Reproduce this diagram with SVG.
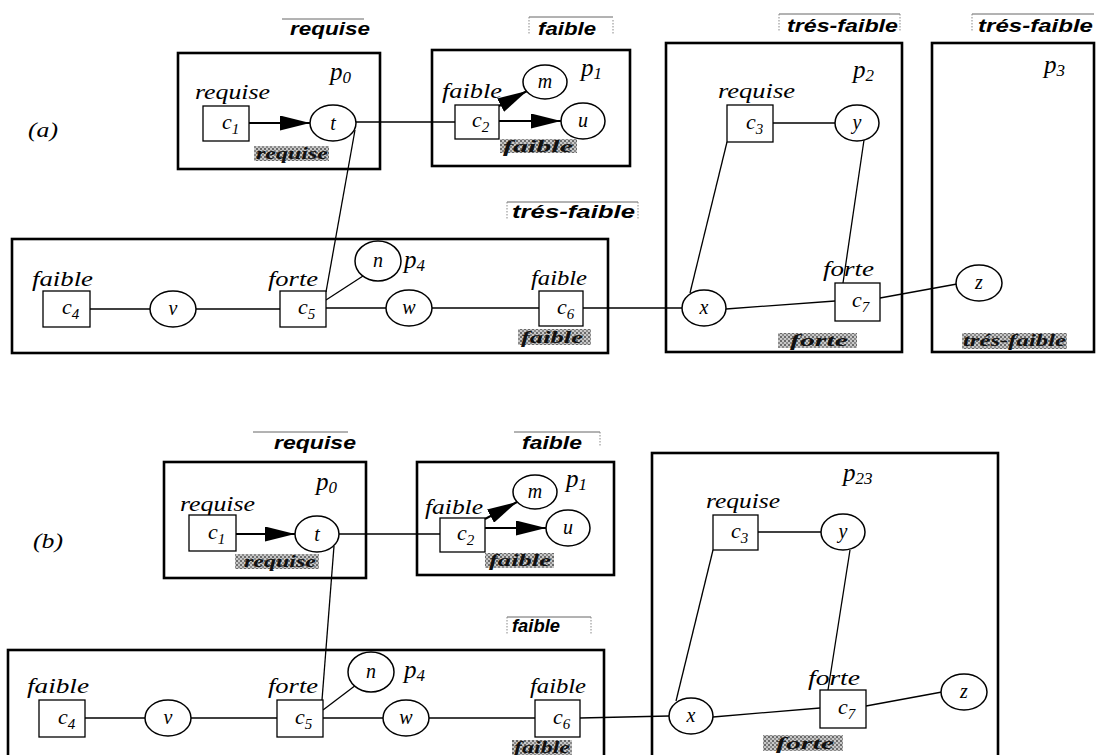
<svg xmlns="http://www.w3.org/2000/svg" width="1096" height="755" viewBox="0 0 1096 755">
<defs>
<style>
.pbox{fill:none;stroke:#000;stroke-width:2.6}
.cbox{fill:#fff;stroke:#000;stroke-width:1.3}
.el{fill:#fff;stroke:#000;stroke-width:1.5}
.ln{stroke:#000;stroke-width:1.3;fill:none}
.arr{stroke:#000;stroke-width:2;fill:none;marker-end:url(#ah)}
.hdr{font-family:"Liberation Sans",Arial,sans-serif;font-weight:bold;font-style:italic;font-size:19px;fill:#000}
.frm{stroke:#666;stroke-width:1;fill:none}
.dot{stroke:#888;stroke-width:1;stroke-dasharray:1.5 1.5;fill:none}
.lbl{font-family:"Liberation Serif","Times New Roman",serif;font-style:italic;font-size:21px;fill:#000}
.pl{font-family:"Liberation Serif","Times New Roman",serif;font-style:italic;font-size:25px;fill:#000}
.nd{font-family:"Liberation Serif","Times New Roman",serif;font-style:italic;font-size:22px;fill:#000}
.ndc{font-family:"Liberation Serif","Times New Roman",serif;font-style:italic;font-size:20px;fill:#000;text-anchor:middle}
.sub{font-size:15px}
.psub{font-size:17px}
.dap{font-family:"Liberation Serif","Times New Roman",serif;font-weight:bold;font-style:italic;font-size:17px;fill:#111}
.dapbg{fill:url(#hatch);stroke:none}
</style>
<pattern id="hatch" width="4" height="4" patternUnits="userSpaceOnUse">
<rect width="4" height="4" fill="#c8c8c8"/>
<rect width="2" height="2" fill="#6a6a6a"/>
<rect x="2" y="2" width="2" height="2" fill="#8a8a8a"/>
</pattern>
<marker id="ah" viewBox="0 0 30 15" refX="30" refY="7.5" markerWidth="30" markerHeight="15" markerUnits="userSpaceOnUse" orient="auto">
<path d="M0,0 L30,7.5 L0,15 z" fill="#000"/>
</marker>
</defs>
<rect width="1096" height="755" fill="#fff"/>

<!-- ================= (a) ================= -->
<text class="lbl" x="28" y="137" font-size="23" textLength="30" lengthAdjust="spacingAndGlyphs">(a)</text>

<g id="a-headers">
<line class="frm" x1="282" y1="19" x2="364" y2="19"/>
<text class="hdr" x="290" y="35" textLength="80" lengthAdjust="spacingAndGlyphs">requise</text>
<line class="frm" x1="529" y1="17" x2="613" y2="17"/>
<line class="dot" x1="529" y1="17" x2="529" y2="35"/>
<line class="dot" x1="613" y1="20" x2="613" y2="35"/>
<text class="hdr" x="538" y="35" textLength="58" lengthAdjust="spacingAndGlyphs">faible</text>
<line class="frm" x1="779" y1="14" x2="900" y2="14"/>
<line class="dot" x1="779" y1="14" x2="779" y2="32"/>
<line class="dot" x1="900" y1="14" x2="900" y2="32"/>
<text class="hdr" x="787" y="32" textLength="111" lengthAdjust="spacingAndGlyphs">trés-faible</text>
<line class="frm" x1="972" y1="14" x2="1094" y2="14"/>
<line class="dot" x1="972" y1="14" x2="972" y2="32"/>
<text class="hdr" x="978" y="32" textLength="115" lengthAdjust="spacingAndGlyphs">trés-faible</text>
<line class="frm" x1="507" y1="202" x2="638" y2="202"/>
<line class="dot" x1="507" y1="202" x2="507" y2="219"/>
<line class="dot" x1="638" y1="202" x2="638" y2="219"/>
<text class="hdr" x="512" y="218" textLength="123" lengthAdjust="spacingAndGlyphs">trés-faible</text>
</g>

<g id="a-p0">
<rect class="pbox" x="178" y="53" width="202" height="116"/>
<text class="pl" x="330" y="80">p<tspan class="psub" dy="3">0</tspan></text>
</g>
<g id="a-p1">
<rect class="pbox" x="432" y="50" width="198" height="116"/>
<text class="pl" x="581" y="76">p<tspan class="psub" dy="3">1</tspan></text>
</g>
<g id="a-p2">
<rect class="pbox" x="666" y="43" width="236" height="309"/>
<text class="pl" x="853" y="78">p<tspan class="psub" dy="3">2</tspan></text>
</g>
<g id="a-p3">
<rect class="pbox" x="932" y="43" width="162" height="309"/>
<text class="pl" x="1044" y="73">p<tspan class="psub" dy="3">3</tspan></text>
</g>
<g id="a-p4">
<rect class="pbox" x="12" y="239" width="596" height="114"/>
<text class="pl" x="404" y="268">p<tspan class="psub" dy="3">4</tspan></text>
</g>

<g id="a-connectors">
<line class="arr" x1="249" y1="123" x2="310" y2="123"/>
<line class="ln" x1="356" y1="122" x2="455" y2="122"/>
<line class="arr" x1="499" y1="121" x2="561" y2="121"/>
<line class="arr" x1="499" y1="106" x2="527" y2="91"/>
<line class="ln" x1="355" y1="130" x2="326" y2="292"/>
<line class="ln" x1="326" y1="300" x2="363" y2="276"/>
<line class="ln" x1="90" y1="309" x2="150" y2="309"/>
<line class="ln" x1="196" y1="309" x2="280" y2="309"/>
<line class="ln" x1="326" y1="308" x2="386" y2="308"/>
<line class="ln" x1="432" y1="308" x2="539" y2="308"/>
<line class="ln" x1="583" y1="308" x2="682" y2="308"/>
<line class="ln" x1="773" y1="123" x2="835" y2="123"/>
<line class="ln" x1="727" y1="142" x2="690" y2="293"/>
<line class="ln" x1="864" y1="140" x2="843" y2="283"/>
<line class="ln" x1="726" y1="309" x2="835" y2="301"/>
<line class="ln" x1="880" y1="298" x2="957" y2="284"/>
</g>

<g id="a-c1">
<text class="lbl" x="195" y="99" textLength="75" lengthAdjust="spacingAndGlyphs">requise</text>
<rect class="cbox" x="203" y="106" width="46" height="35"/>
<text class="nd" x="222" y="129">c<tspan class="sub" dy="5">1</tspan></text>
<rect class="dapbg" x="254" y="146" width="75" height="15"/>
<text class="dap" x="256" y="159" textLength="72" lengthAdjust="spacingAndGlyphs">requise</text>
</g>
<g id="a-t"><ellipse class="el" cx="333" cy="123" rx="23" ry="18"/><text class="ndc" x="333" y="130">t</text></g>
<g id="a-c2">
<text class="lbl" x="442" y="98" textLength="60" lengthAdjust="spacingAndGlyphs">faible</text>
<rect class="cbox" x="455" y="105" width="44" height="34"/>
<text class="nd" x="472" y="127">c<tspan class="sub" dy="5">2</tspan></text>
<rect class="dapbg" x="500" y="139" width="77" height="14"/>
<text class="dap" x="503" y="152" textLength="70" lengthAdjust="spacingAndGlyphs">faible</text>
</g>
<g id="a-m"><ellipse class="el" cx="545" cy="82" rx="22" ry="17"/><text class="ndc" x="545" y="88">m</text></g>
<g id="a-u"><ellipse class="el" cx="583" cy="121" rx="22" ry="18"/><text class="ndc" x="583" y="127">u</text></g>
<g id="a-c3">
<text class="lbl" x="718" y="98" textLength="77" lengthAdjust="spacingAndGlyphs">requise</text>
<rect class="cbox" x="727" y="105" width="46" height="37"/>
<text class="nd" x="746" y="129">c<tspan class="sub" dy="5">3</tspan></text>
</g>
<g id="a-y"><ellipse class="el" cx="857" cy="123" rx="22" ry="18"/><text class="ndc" x="857" y="129">y</text></g>
<g id="a-x"><ellipse class="el" cx="704" cy="308" rx="22" ry="18"/><text class="ndc" x="704" y="314">x</text></g>
<g id="a-c7">
<text class="lbl" x="823" y="276" textLength="51" lengthAdjust="spacingAndGlyphs">forte</text>
<rect class="cbox" x="835" y="283" width="45" height="38"/>
<text class="nd" x="852" y="307">c<tspan class="sub" dy="5">7</tspan></text>
<rect class="dapbg" x="778" y="333" width="79" height="15"/>
<text class="dap" x="790" y="346" textLength="58" lengthAdjust="spacingAndGlyphs">forte</text>
</g>
<g id="a-z"><ellipse class="el" cx="979" cy="283" rx="23" ry="18"/><text class="ndc" x="979" y="289">z</text>
<rect class="dapbg" x="962" y="333" width="105" height="16"/>
<text class="dap" x="963" y="346" textLength="103" lengthAdjust="spacingAndGlyphs">trés-faible</text>
</g>
<g id="a-c4">
<text class="lbl" x="32" y="286" textLength="61" lengthAdjust="spacingAndGlyphs">faible</text>
<rect class="cbox" x="43" y="291" width="47" height="36"/>
<text class="nd" x="62" y="314">c<tspan class="sub" dy="5">4</tspan></text>
</g>
<g id="a-v"><ellipse class="el" cx="173" cy="309" rx="23" ry="18"/><text class="ndc" x="173" y="315">v</text></g>
<g id="a-c5">
<text class="lbl" x="268" y="286" textLength="50" lengthAdjust="spacingAndGlyphs">forte</text>
<rect class="cbox" x="280" y="291" width="46" height="36"/>
<text class="nd" x="298" y="314">c<tspan class="sub" dy="5">5</tspan></text>
</g>
<g id="a-n"><ellipse class="el" cx="378" cy="261" rx="23" ry="20"/><text class="ndc" x="378" y="267">n</text></g>
<g id="a-w"><ellipse class="el" cx="409" cy="308" rx="23" ry="18"/><text class="ndc" x="409" y="314">w</text></g>
<g id="a-c6">
<text class="lbl" x="531" y="285" textLength="56" lengthAdjust="spacingAndGlyphs">faible</text>
<rect class="cbox" x="539" y="291" width="44" height="35"/>
<text class="nd" x="557" y="314">c<tspan class="sub" dy="5">6</tspan></text>
<rect class="dapbg" x="518" y="329" width="73" height="16"/>
<text class="dap" x="521" y="343" textLength="62" lengthAdjust="spacingAndGlyphs">faible</text>
</g>

<!-- ================= (b) ================= -->
<text class="lbl" x="33" y="548" font-size="23" textLength="30" lengthAdjust="spacingAndGlyphs">(b)</text>

<g id="b-headers">
<line class="frm" x1="253" y1="432" x2="348" y2="432"/>
<text class="hdr" x="274" y="449" textLength="82" lengthAdjust="spacingAndGlyphs">requise</text>
<line class="frm" x1="514" y1="432" x2="600" y2="432"/>
<line class="dot" x1="600" y1="432" x2="600" y2="447"/>
<text class="hdr" x="522" y="449" textLength="60" lengthAdjust="spacingAndGlyphs">faible</text>
<line class="frm" x1="507" y1="617" x2="591" y2="617"/>
<line class="dot" x1="507" y1="617" x2="507" y2="634"/>
<line class="dot" x1="591" y1="617" x2="591" y2="634"/>
<text class="hdr" x="512" y="632" textLength="48" lengthAdjust="spacingAndGlyphs">faible</text>
</g>

<g id="b-p0">
<rect class="pbox" x="164" y="462" width="202" height="116"/>
<text class="pl" x="316" y="490">p<tspan class="psub" dy="3">0</tspan></text>
</g>
<g id="b-p1">
<rect class="pbox" x="417" y="462" width="197" height="113"/>
<text class="pl" x="566" y="487">p<tspan class="psub" dy="3">1</tspan></text>
</g>
<g id="b-p23">
<rect class="pbox" x="652" y="453" width="346" height="330"/>
<text class="pl" x="843" y="481">p<tspan class="psub" dy="3">23</tspan></text>
</g>
<g id="b-p4">
<rect class="pbox" x="8" y="650" width="596" height="130"/>
<text class="pl" x="404" y="678">p<tspan class="psub" dy="3">4</tspan></text>
</g>

<g id="b-connectors">
<line class="arr" x1="236" y1="534" x2="295" y2="534"/>
<line class="ln" x1="339" y1="534" x2="440" y2="534"/>
<line class="arr" x1="485" y1="528" x2="546" y2="528"/>
<line class="arr" x1="485" y1="519" x2="517" y2="502"/>
<line class="ln" x1="334" y1="546" x2="322" y2="700"/>
<line class="ln" x1="323" y1="710" x2="356" y2="685"/>
<line class="ln" x1="85" y1="718" x2="145" y2="718"/>
<line class="ln" x1="191" y1="718" x2="277" y2="718"/>
<line class="ln" x1="323" y1="718" x2="383" y2="718"/>
<line class="ln" x1="429" y1="718" x2="535" y2="718"/>
<line class="ln" x1="580" y1="718" x2="669" y2="716"/>
<line class="ln" x1="758" y1="532" x2="821" y2="532"/>
<line class="ln" x1="713" y1="550" x2="676" y2="701"/>
<line class="ln" x1="850" y1="550" x2="828" y2="690"/>
<line class="ln" x1="713" y1="717" x2="820" y2="708"/>
<line class="ln" x1="866" y1="706" x2="942" y2="692"/>
</g>

<g id="b-c1">
<text class="lbl" x="180" y="511" textLength="75" lengthAdjust="spacingAndGlyphs">requise</text>
<rect class="cbox" x="189" y="515" width="47" height="36"/>
<text class="nd" x="208" y="539">c<tspan class="sub" dy="5">1</tspan></text>
<rect class="dapbg" x="235" y="554" width="84" height="15"/>
<text class="dap" x="244" y="567" textLength="72" lengthAdjust="spacingAndGlyphs">requise</text>
</g>
<g id="b-t"><ellipse class="el" cx="317" cy="534" rx="22" ry="18"/><text class="ndc" x="317" y="541">t</text></g>
<g id="b-c2">
<text class="lbl" x="425" y="514" textLength="58" lengthAdjust="spacingAndGlyphs">faible</text>
<rect class="cbox" x="440" y="518" width="45" height="34"/>
<text class="nd" x="457" y="540">c<tspan class="sub" dy="5">2</tspan></text>
<rect class="dapbg" x="485" y="553" width="69" height="15"/>
<text class="dap" x="489" y="566" textLength="62" lengthAdjust="spacingAndGlyphs">faible</text>
</g>
<g id="b-m"><ellipse class="el" cx="535" cy="492" rx="22" ry="17"/><text class="ndc" x="535" y="498">m</text></g>
<g id="b-u"><ellipse class="el" cx="568" cy="528" rx="22" ry="18"/><text class="ndc" x="568" y="534">u</text></g>
<g id="b-c3">
<text class="lbl" x="706" y="508" textLength="74" lengthAdjust="spacingAndGlyphs">requise</text>
<rect class="cbox" x="713" y="515" width="45" height="35"/>
<text class="nd" x="731" y="538">c<tspan class="sub" dy="5">3</tspan></text>
</g>
<g id="b-y"><ellipse class="el" cx="843" cy="532" rx="22" ry="18"/><text class="ndc" x="843" y="538">y</text></g>
<g id="b-x"><ellipse class="el" cx="691" cy="716" rx="22" ry="18"/><text class="ndc" x="691" y="722">x</text></g>
<g id="b-c7">
<text class="lbl" x="808" y="685" textLength="52" lengthAdjust="spacingAndGlyphs">forte</text>
<rect class="cbox" x="820" y="690" width="46" height="38"/>
<text class="nd" x="838" y="714">c<tspan class="sub" dy="5">7</tspan></text>
<rect class="dapbg" x="763" y="735" width="80" height="16"/>
<text class="dap" x="776" y="749" textLength="58" lengthAdjust="spacingAndGlyphs">forte</text>
</g>
<g id="b-z"><ellipse class="el" cx="964" cy="692" rx="23" ry="18"/><text class="ndc" x="964" y="698">z</text></g>
<g id="b-c4">
<text class="lbl" x="27" y="693" textLength="62" lengthAdjust="spacingAndGlyphs">faible</text>
<rect class="cbox" x="39" y="700" width="46" height="37"/>
<text class="nd" x="58" y="724">c<tspan class="sub" dy="5">4</tspan></text>
</g>
<g id="b-v"><ellipse class="el" cx="168" cy="718" rx="23" ry="18"/><text class="ndc" x="168" y="724">v</text></g>
<g id="b-c5">
<text class="lbl" x="268" y="693" textLength="50" lengthAdjust="spacingAndGlyphs">forte</text>
<rect class="cbox" x="277" y="700" width="46" height="37"/>
<text class="nd" x="295" y="724">c<tspan class="sub" dy="5">5</tspan></text>
</g>
<g id="b-n"><ellipse class="el" cx="371" cy="672" rx="23" ry="20"/><text class="ndc" x="371" y="678">n</text></g>
<g id="b-w"><ellipse class="el" cx="406" cy="718" rx="23" ry="18"/><text class="ndc" x="406" y="724">w</text></g>
<g id="b-c6">
<text class="lbl" x="530" y="693" textLength="56" lengthAdjust="spacingAndGlyphs">faible</text>
<rect class="cbox" x="535" y="700" width="45" height="37"/>
<text class="nd" x="553" y="724">c<tspan class="sub" dy="5">6</tspan></text>
<rect class="dapbg" x="512" y="740" width="60" height="15"/>
<text class="dap" x="514" y="753" textLength="56" lengthAdjust="spacingAndGlyphs">faible</text>
</g>
</svg>
